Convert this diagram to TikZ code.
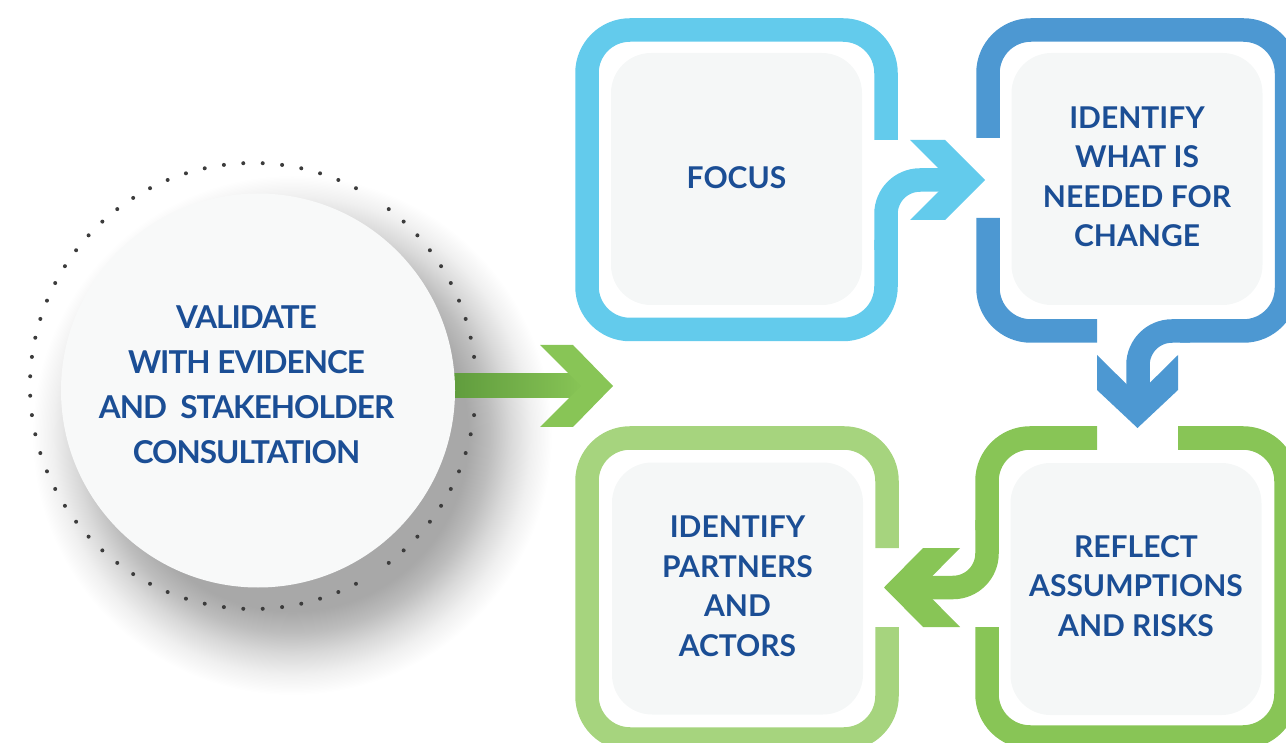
\documentclass[tikz,border=0pt]{standalone}
\usepackage{fontspec}
\setmainfont{Lato}
\newfontfamily\circfont{Lato}[LetterSpace=-3.2]
\definecolor{cLB}{HTML}{63CBEC}
\definecolor{cDB}{HTML}{4D98D2}
\definecolor{cG}{HTML}{88C556}
\definecolor{cLG}{HTML}{A6D47E}
\definecolor{cTxt}{HTML}{1B4E95}
\definecolor{cBox}{HTML}{F5F7F7}
\definecolor{cCirc}{HTML}{F8F9F9}
\definecolor{cGdark}{HTML}{5C983B}
\definecolor{cDot}{HTML}{3C3C3C}
\pgfdeclareradialshading{circshadow}{\pgfpoint{0bp}{0bp}}{color(0bp)=(black!34); color(17bp)=(black!34); color(19bp)=(black!26); color(21bp)=(black!15); color(23bp)=(black!6); color(25bp)=(white); color(50bp)=(white)}
\begin{document}
\begin{tikzpicture}[x=1pt,y=-1pt,
  framepath/.style={line width=23.5pt, rounded corners=43pt},
  bendpath/.style={line width=23.5pt, rounded corners=34pt},
  gbox/.style={rectangle, rounded corners=40pt, fill=cBox, minimum width=251pt, minimum height=252pt, inner sep=0pt},
  btext/.style={align=center, text=cTxt, inner sep=0pt, font=\fontsize{30}{39.5}\selectfont\bfseries},
  ctext/.style={align=center, text=cTxt, inner sep=0pt, font=\circfont\fontsize{31.5}{45}\selectfont\bfseries}]
\useasboundingbox (0,0) rectangle (1286,743);
\clip (0,0) rectangle (1286,743);
% shadow of the circle
\shade[shading=circshadow] (292,435) circle (260pt);
% dotted ring
\foreach \a in {2.5,7.5,...,357.5}{
  \pgfmathparse{(abs(\a-57.5)<1) || (abs(\a-302.5)<1)}
  \ifdim\pgfmathresult pt<0.5pt
    \fill[cDot] ({253+223*cos(\a)},{386+223*sin(\a)}) circle (2pt);
  \fi
}
% green input arrow
\shade[left color=cGdark,right color=cG] (440,374) rectangle (585,398);
\fill[cG] (540,345) -- (573,345) -- (613,386) -- (573,427) -- (540,427) -- (581,386) -- cycle;
% circle
\node[circle, fill=cCirc, minimum size=394pt, inner sep=0pt] (valc) at (258,390.5) {};
\node[ctext] (val) at (246.5,385) {VALIDATE\\WITH EVIDENCE\\AND\ \ STAKEHOLDER\\CONSULTATION};
% light blue frame
\draw[framepath, cLB] (886,140) -- (886,30) -- (587,30) -- (587,329.5) -- (886,329.5) -- (886,240);
\draw[bendpath, cLB] (886,250) -- (886,180) -- (960,180);
\fill[cLB] (910,140) -- (945,140) -- (985,180) -- (945,220) -- (910,220) -- (950,180) -- cycle;
% dark blue frame
\draw[framepath, cDB] (988,138) -- (988,30) -- (1286.5,30) -- (1286.5,331) -- (1180,331);
\draw[bendpath, cDB] (1190,331) -- (1138,331) -- (1138,400);
\draw[framepath, cDB] (988,218) -- (988,331) -- (1097,331);
\fill[cDB] (1097,355) -- (1097,390) -- (1137.5,428) -- (1178,390) -- (1178,355) -- (1137.5,395) -- cycle;
% green frame
\draw[framepath, cG] (1178,438) -- (1286,438) -- (1286,737) -- (987,737) -- (987,627);
\draw[framepath, cG] (1097,438) -- (987,438) -- (987,530);
\draw[bendpath, cG] (987,520) -- (987,587.5) -- (910,587.5);
\fill[cG] (960,548) -- (923,548) -- (884,587.5) -- (923,627) -- (960,627) -- (921,587.5) -- cycle;
% light green frame
\draw[framepath, cLG] (887,627) -- (887,739) -- (587,739) -- (587,438) -- (887,438) -- (887,548);
% boxes
\node[gbox] (focusbox) at (736.5,179) {};
\node[gbox] (identbox) at (1137,179) {};
\node[gbox] (reflectbox) at (1136,589) {};
\node[gbox] (partnersbox) at (737.5,588.5) {};
% texts
\node[btext] (focus) at (736.5,178) {FOCUS};
\node[btext] (ident) at (1137,177) {IDENTIFY\\WHAT IS\\NEEDED FOR\\CHANGE};
\node[btext] (reflect) at (1136,586) {REFLECT\\ASSUMPTIONS\\AND RISKS};
\node[btext] (partners) at (737.5,586.5) {IDENTIFY\\PARTNERS\\AND\\ACTORS};
\end{tikzpicture}
\end{document}
